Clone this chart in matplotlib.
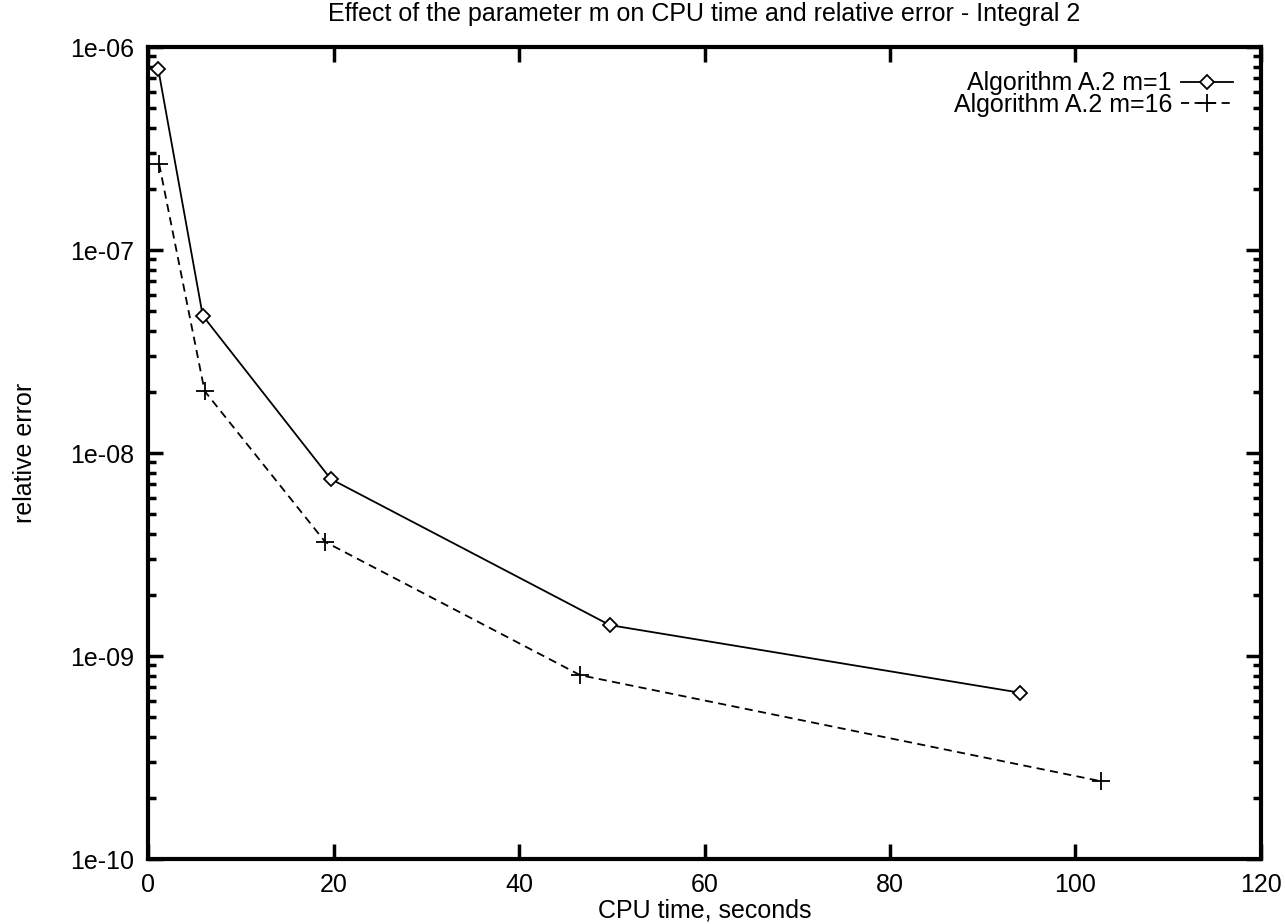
import matplotlib
matplotlib.use("Agg")
from matplotlib import pyplot as plt
from matplotlib.ticker import LogLocator, NullFormatter, FixedLocator

plt.rcParams['font.family'] = ['Liberation Sans', 'DejaVu Sans']

# CPU time [s] and relative error for the two runs
time_m1 = [1.1, 5.9, 19.7, 49.8, 94.0]
err_m1 = [7.8e-7, 4.75e-8, 7.45e-9, 1.42e-9, 6.6e-10]

time_m16 = [1.2, 6.1, 19.1, 46.6, 102.7]
err_m16 = [2.65e-7, 2.02e-8, 3.65e-9, 8.05e-10, 2.42e-10]

labels = ['Algorithm A.2 m=1', 'Algorithm A.2 m=16']
x_ticks = [0, 20, 40, 60, 80, 100, 120]
y_ticks = [1e-10, 1e-9, 1e-8, 1e-7, 1e-6]
y_tick_labels = ['1e-10', '1e-09', '1e-08', '1e-07', '1e-06']

FS = 18

fig = plt.figure(figsize=(12.85, 9.24), dpi=100)
ax = fig.add_axes([0.1152, 0.0703, 0.8661, 0.8788])

ax.plot(time_m1, err_m1, color='black', lw=1.3, marker='D', ms=7.5,
        mfc='white', mec='black', mew=1.3, label=labels[0])
ax.plot(time_m16, err_m16, color='black', lw=1.3, ls=(0, (4.5, 3)),
        marker='+', ms=13, mew=1.3, label=labels[1])

ax.set_yscale('log')
ax.set_xlim(0, 120)
ax.set_ylim(1e-10, 1e-6)

ax.xaxis.set_major_locator(FixedLocator(x_ticks))
ax.set_xticklabels([str(t) for t in x_ticks])
ax.set_yticks(y_ticks)
ax.set_yticklabels(y_tick_labels)
ax.yaxis.set_minor_locator(LogLocator(base=10, subs=range(2, 10)))
ax.yaxis.set_minor_formatter(NullFormatter())

ax.tick_params(which='both', direction='in', top=True, right=True,
               labelsize=FS, width=2.5, pad=10)
ax.tick_params(which='major', length=11)
ax.tick_params(which='minor', length=6)
for s in ax.spines.values():
    s.set_linewidth(3)

ax.set_title('Effect of the parameter m on CPU time and relative error - Integral 2',
             fontsize=FS, pad=19)
ax.set_xlabel('CPU time, seconds', fontsize=FS, labelpad=1)
ax.set_ylabel('relative error', fontsize=FS, labelpad=24)

ax.legend(loc='upper right', frameon=False, markerfirst=False, fontsize=FS,
          handlelength=2.1, handletextpad=0.35, borderaxespad=0, borderpad=0,
          labelspacing=-0.1, bbox_to_anchor=(0.975, 0.970))

fig.savefig('out.png', dpi=100)
